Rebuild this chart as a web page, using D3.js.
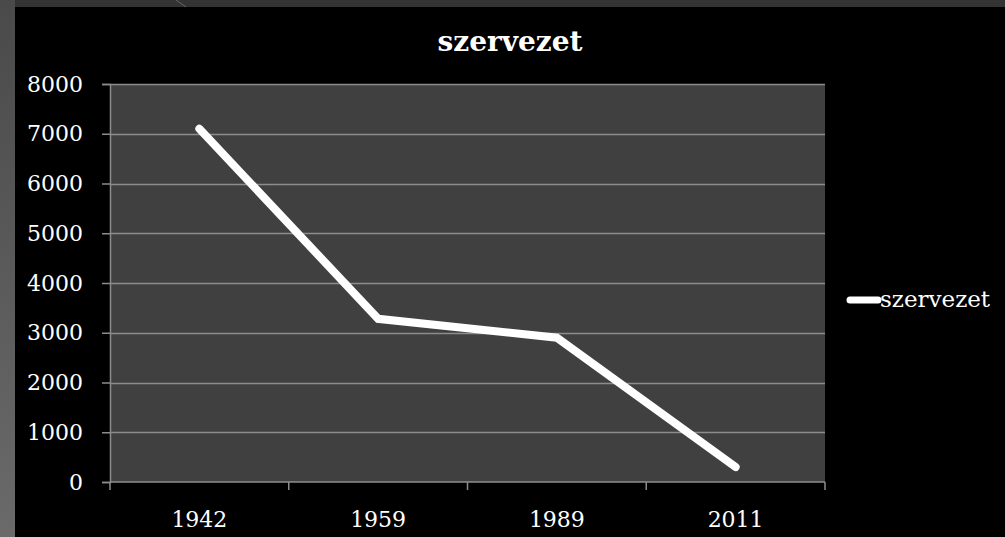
<!DOCTYPE html>
<html>
<head>
<meta charset="utf-8">
<script src="https://cdn.jsdelivr.net/npm/d3@7"></script>
<style>
  html, body { margin: 0; padding: 0; background: #000; }
  svg { display: block; }
</style>
</head>
<body>
<div id="chart"></div>
<script>
var W = 1005, H = 537;
var margin = { top: 84, right: 180, bottom: 55, left: 110 },
  width = 825 - margin.left,
  height = 482 - margin.top;

const YEARS = ["1942", "1959", "1989", "2011"];
const SZERVEZET = [7100, 3280, 2900, 300];
const Y_TICKS = [0, 1000, 2000, 3000, 4000, 5000, 6000, 7000, 8000];
const SERIES_NAME = "szervezet";

var serif = "'DejaVu Serif', 'Liberation Serif', serif";

var root = d3.select("#chart").append("svg")
  .attr("width", W)
  .attr("height", H);

// slide background bits
root.append("rect").attr("width", W).attr("height", H).attr("fill", "#000");
root.append("rect").attr("width", W).attr("height", 7).attr("fill", "#333");
var lg = root.append("defs").append("linearGradient")
  .attr("id", "side").attr("x1", 0).attr("y1", 0).attr("x2", 0).attr("y2", 1);
lg.append("stop").attr("offset", "0%").attr("stop-color", "#4a4a4a");
lg.append("stop").attr("offset", "100%").attr("stop-color", "#6a6a6a");
root.append("rect").attr("width", 15).attr("height", H).attr("fill", "url(#side)");
root.append("line").attr("x1", 176).attr("y1", 0).attr("x2", 186).attr("y2", 7)
  .attr("stroke", "#666").attr("stroke-width", 1);

var svg = root.append("g")
  .attr("transform", "translate(" + margin.left + "," + margin.top + ")");

var x = d3.scaleBand().domain(YEARS).range([0, width]);
var y = d3.scaleLinear().domain([0, 8000]).range([height, 0]);

// plot area
svg.append("rect")
  .attr("width", width)
  .attr("height", height)
  .attr("fill", "#404040");

// gridlines
svg.append("g")
  .selectAll("line")
  .data(Y_TICKS.filter(function (d) { return d > 0; }))
  .enter()
  .append("line")
  .attr("x1", 0)
  .attr("x2", width)
  .attr("y1", function (d) { return Math.round(y(d)) + 0.5; })
  .attr("y2", function (d) { return Math.round(y(d)) + 0.5; })
  .attr("stroke", "#8c8c8c")
  .attr("stroke-width", 1.5);

// y axis
var yAxis = svg.append("g")
  .call(d3.axisLeft(y).tickValues(Y_TICKS).tickFormat(d3.format("d")).tickSize(8).tickPadding(19));
yAxis.select(".domain").attr("stroke", "#8c8c8c").attr("stroke-width", 1.5);
yAxis.selectAll(".tick line").attr("stroke", "#8c8c8c").attr("stroke-width", 1.5);
yAxis.selectAll("text")
  .attr("fill", "#fff")
  .style("font-family", serif)
  .style("font-size", "22px");

// x axis: ticks at band edges
var xAxis = svg.append("g")
  .attr("transform", "translate(0," + height + ")");
xAxis.append("line")
  .attr("x1", 0).attr("x2", width)
  .attr("stroke", "#8c8c8c").attr("stroke-width", 1.5);
var edges = YEARS.map(function (d) { return x(d); }).concat([width]);
xAxis.selectAll(".edge")
  .data(edges)
  .enter()
  .append("line")
  .attr("x1", function (d) { return d; })
  .attr("x2", function (d) { return d; })
  .attr("y1", 0)
  .attr("y2", 8)
  .attr("stroke", "#8c8c8c")
  .attr("stroke-width", 1.5);
xAxis.selectAll("text")
  .data(YEARS)
  .enter()
  .append("text")
  .attr("x", function (d) { return x(d) + x.bandwidth() / 2; })
  .attr("y", 45)
  .attr("text-anchor", "middle")
  .attr("fill", "#fff")
  .style("font-family", serif)
  .style("font-size", "22px")
  .text(function (d) { return d; });

// line
var line = d3.line()
  .x(function (d, i) { return x(YEARS[i]) + x.bandwidth() / 2; })
  .y(function (d) { return y(d); });

svg.append("path")
  .datum(SZERVEZET)
  .attr("d", line)
  .attr("fill", "none")
  .attr("stroke", "#fff")
  .attr("stroke-width", 8)
  .attr("stroke-linecap", "round")
  .attr("stroke-linejoin", "miter");

// title
root.append("text")
  .attr("x", 510)
  .attr("y", 51)
  .attr("text-anchor", "middle")
  .attr("fill", "#fff")
  .style("font-family", serif)
  .style("font-weight", "bold")
  .style("font-size", "28px")
  .text(SERIES_NAME);

// legend
var legend = root.append("g").attr("transform", "translate(847,300)");
legend.append("line")
  .attr("x1", 3).attr("x2", 31)
  .attr("stroke", "#fff")
  .attr("stroke-width", 7)
  .attr("stroke-linecap", "round");
legend.append("text")
  .attr("x", 33)
  .attr("y", 7)
  .attr("fill", "#fff")
  .style("font-family", serif)
  .style("font-size", "23px")
  .text(SERIES_NAME);
</script>
</body>
</html>
